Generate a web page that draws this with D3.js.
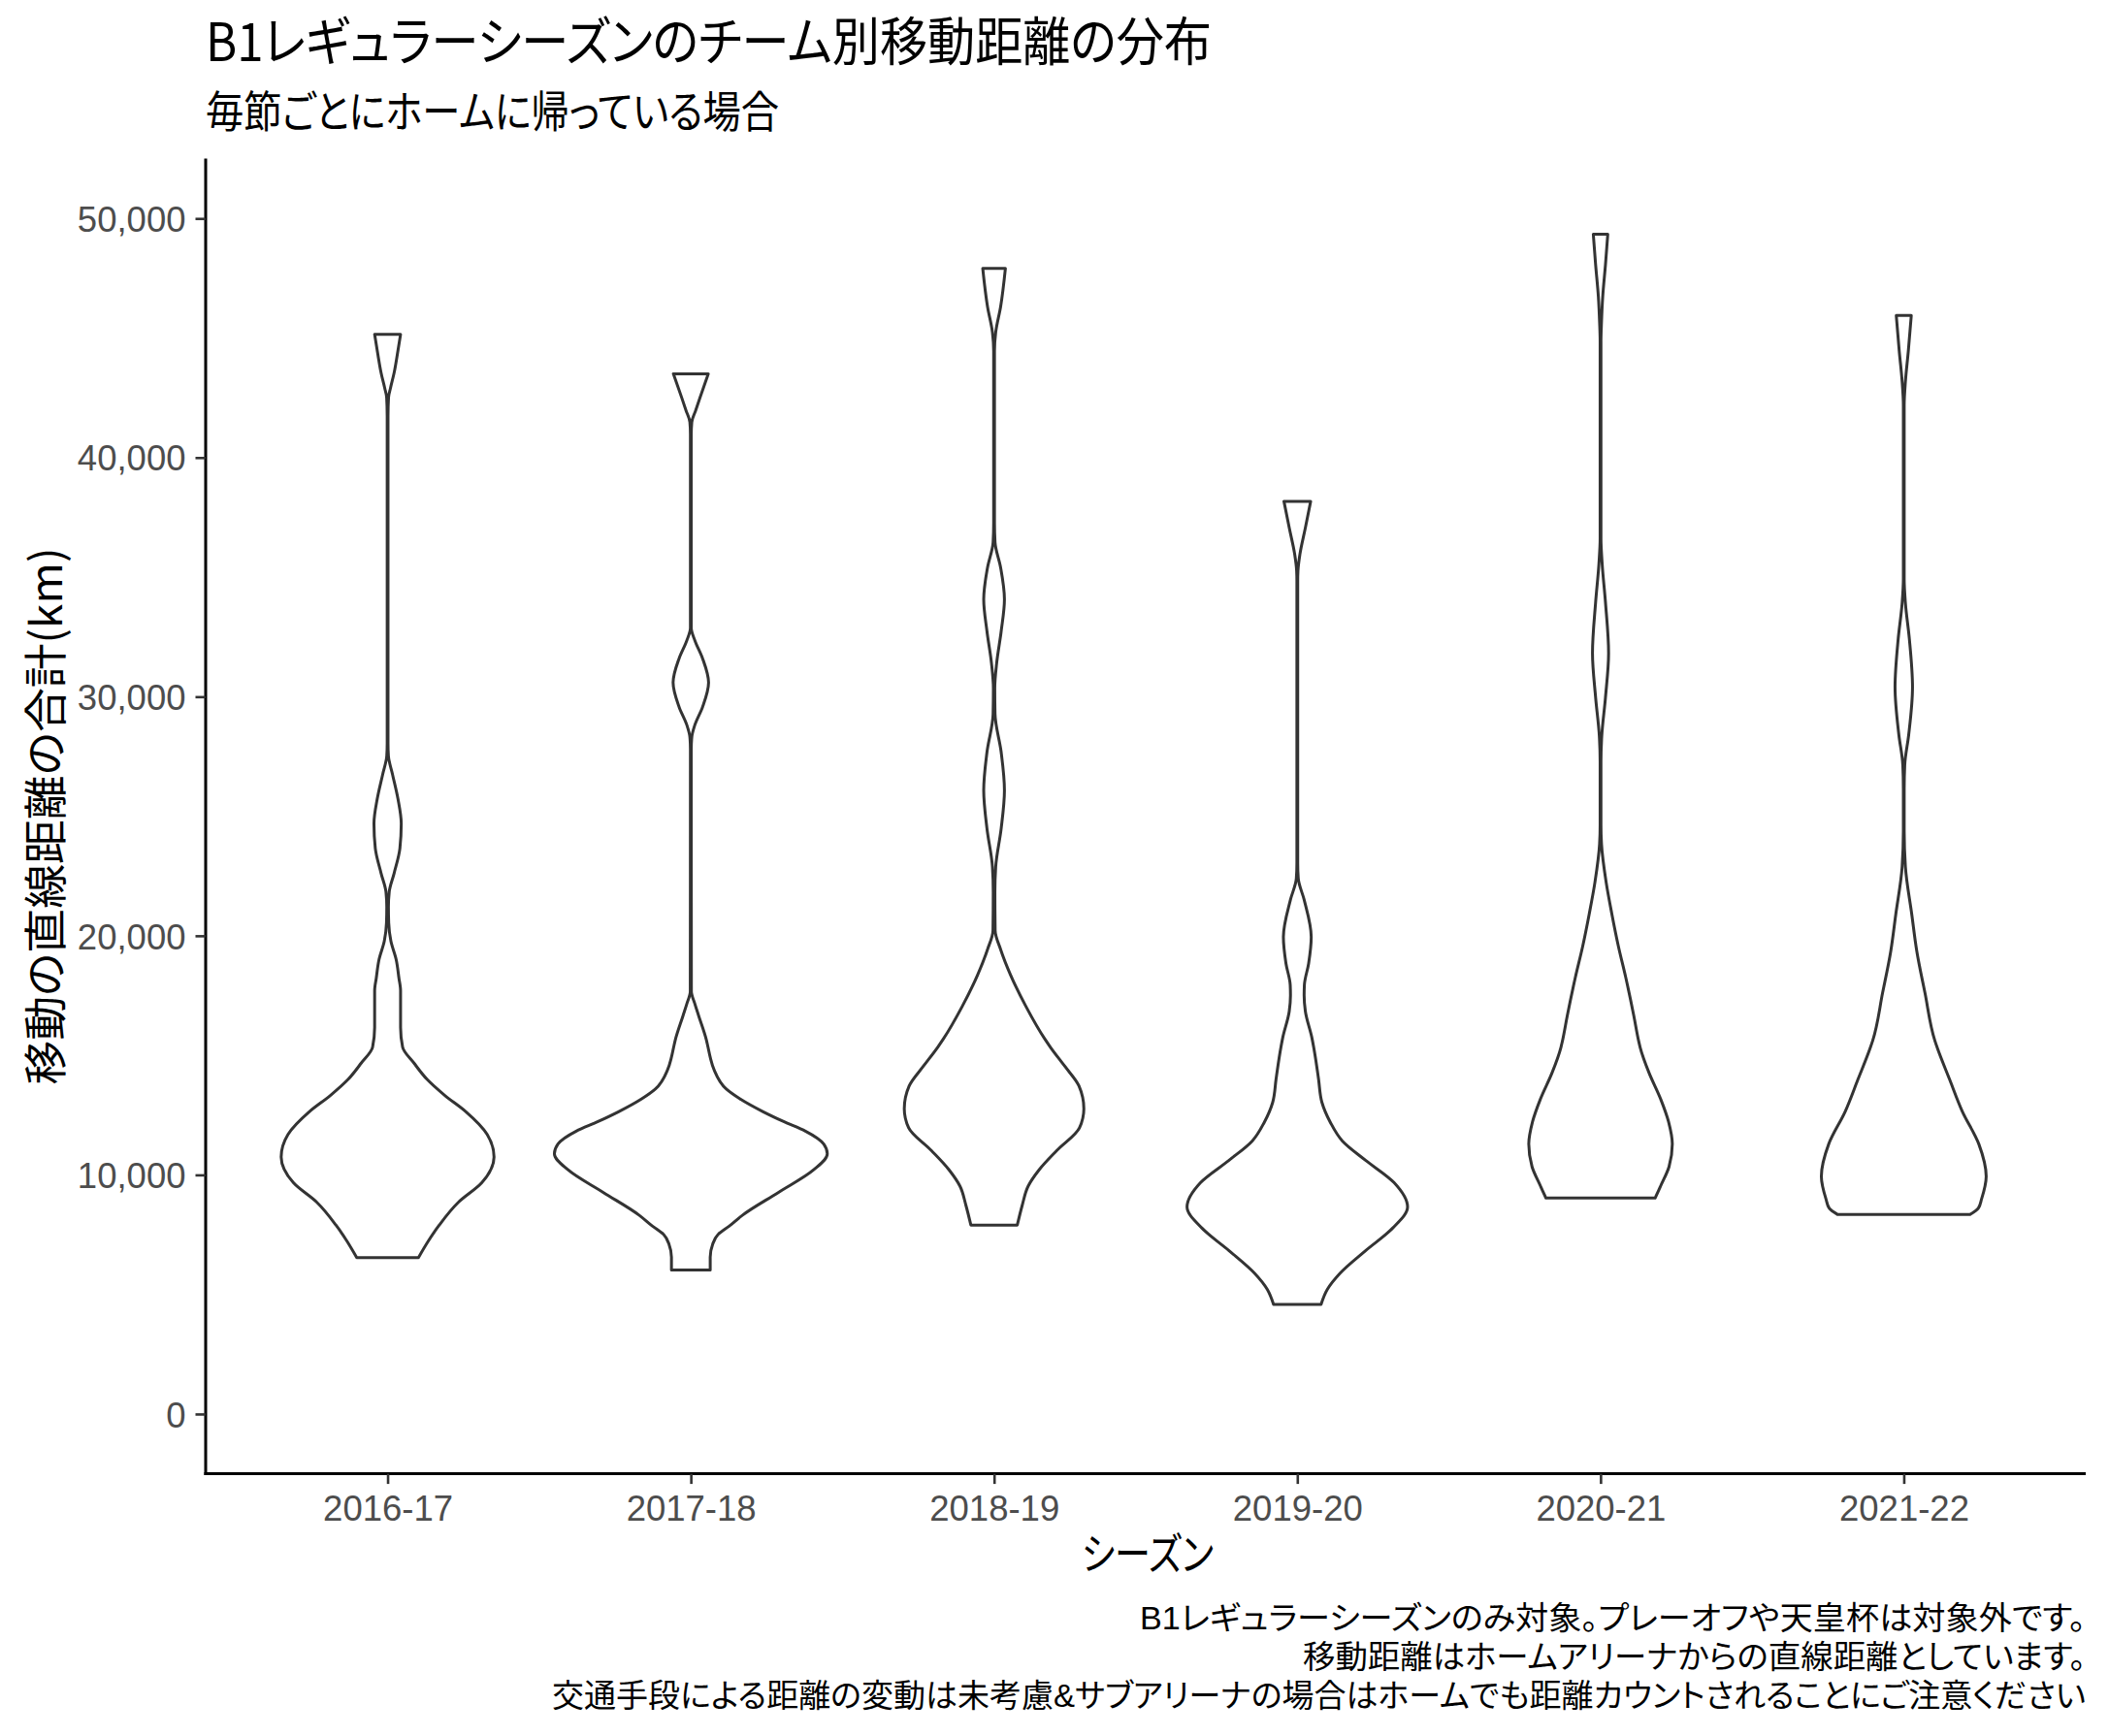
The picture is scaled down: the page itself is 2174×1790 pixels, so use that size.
<!DOCTYPE html>
<html>
<head>
<meta charset="utf-8">
<script src="https://cdn.jsdelivr.net/npm/d3@7"></script>
<style>
  body { margin: 0; background: #ffffff; }
  .jp { font-family: "Noto Sans CJK JP", sans-serif; font-feature-settings: "palt"; }
  .cap { font-family: "Liberation Sans", "Noto Sans CJK JP", sans-serif; font-feature-settings: "palt"; }
  .num { font-family: "Liberation Sans", Arial, sans-serif; }
</style>
</head>
<body>
<svg id="chart" width="2174" height="1790"></svg>
<script>
// ---------------- data ----------------
const seasons = ["2016-17", "2017-18", "2018-19", "2019-20", "2020-21", "2021-22"];
const yTicks = [0, 10000, 20000, 30000, 40000, 50000];
const yLimits = [0, 50000];

const titleText = "B1レギュラーシーズンのチーム別移動距離の分布";
const subtitleText = "毎節ごとにホームに帰っている場合";
const xTitleText = "シーズン";
const yTitleText = "移動の直線距離の合計(km)";
const captionLines = [
  "B1レギュラーシーズンのみ対象。プレーオフや天皇杯は対象外です。",
  "移動距離はホームアリーナからの直線距離としています。",
  "交通手段による距離の変動は未考慮&サブアリーナの場合はホームでも距離カウントされることにご注意ください"
];

// violin profiles: [distance km, scaled density (1 = widest violin)], top to bottom
const violin2016_17 = [
  [45150,0.095],[44300,0.071],[43550,0.048],[42900,0.021],[42520,0.007],[41740,0.003],
  [28050,0.003],[27530,0.006],[26750,0.036],[25720,0.076],[24690,0.100],[23650,0.090],
  [22620,0.048],[21840,0.012],[21200,0.006],[20550,0.008],[19780,0.024],[19000,0.063],
  [18230,0.083],[17710,0.095],[16160,0.095],[15340,0.110],[14670,0.194],[13990,0.290],
  [13320,0.420],[12640,0.574],[11690,0.730],[10750,0.780],[9670,0.690],[8860,0.520],
  [7910,0.380],[7240,0.299],[6540,0.226]
];
const violin2017_18 = [
  [43500,0.128],[42490,0.066],[41980,0.036],[41480,0.007],[40970,0.003],[32870,0.003],
  [32360,0.029],[31600,0.086],[30590,0.130],[29570,0.086],[28810,0.029],[28310,0.007],
  [27800,0.003],[17670,0.004],[17160,0.029],[16660,0.057],[15640,0.114],[15340,0.126],
  [14900,0.143],[14400,0.170],[13590,0.260],[13180,0.360],[12640,0.530],[12230,0.680],
  [11830,0.840],[11290,0.974],[10880,1.000],[10210,0.900],[9260,0.640],[8320,0.380],
  [7850,0.280],[7510,0.200],[7100,0.160],[6560,0.142],[6020,0.142]
];
const violin2018_19 = [
  [47910,0.083],[46310,0.048],[45240,0.012],[44450,0.003],[37260,0.003],[36460,0.007],
  [35400,0.048],[34070,0.076],[32730,0.052],[31400,0.019],[30340,0.005],[29280,0.007],
  [27680,0.052],[26080,0.076],[24480,0.052],[22890,0.012],[21820,0.006],[20220,0.008],
  [19430,0.048],[18360,0.121],[17030,0.235],[15700,0.370],[15340,0.413],[14530,0.520],
  [13720,0.622],[12770,0.658],[11970,0.626],[11020,0.460],[10210,0.330],[9530,0.250],
  [8720,0.206],[7900,0.170]
];
const violin2019_20 = [
  [38170,0.098],[37060,0.059],[35950,0.019],[35280,0.005],[34840,0.003],[23060,0.003],
  [22400,0.007],[21510,0.050],[19950,0.102],[18840,0.083],[17950,0.052],[17510,0.050],
  [16840,0.059],[15730,0.107],[15340,0.120],[14400,0.146],[13990,0.156],[13040,0.180],
  [12200,0.242],[11420,0.330],[10610,0.500],[9670,0.710],[8660,0.808],[7780,0.700],
  [6830,0.500],[5890,0.314],[5210,0.220],[4580,0.174]
];
const violin2020_21 = [
  [49340,0.053],[48060,0.036],[46730,0.016],[45660,0.007],[44860,0.003],[36610,0.003],
  [35550,0.012],[33950,0.036],[31820,0.059],[29960,0.036],[28360,0.009],[27300,0.003],
  [24640,0.003],[23840,0.007],[22240,0.041],[20910,0.083],[19580,0.130],[18250,0.185],
  [16650,0.244],[15580,0.280],[15340,0.290],[14260,0.356],[13180,0.440],[12230,0.498],
  [11290,0.526],[10340,0.502],[9530,0.440],[9400,0.430],[9030,0.400]
];
const violin2021_22 = [
  [45940,0.055],[44440,0.033],[43180,0.012],[42180,0.003],[34920,0.003],[33910,0.012],
  [32410,0.041],[30400,0.064],[28400,0.036],[27140,0.007],[26140,0.003],[24380,0.003],
  [22880,0.012],[20880,0.059],[19370,0.095],[17620,0.155],[15610,0.228],[15340,0.244],
  [13990,0.336],[12640,0.430],[11290,0.550],[9940,0.604],[8990,0.570],[8600,0.546],
  [8340,0.484]
];
const violins = [violin2016_17, violin2017_18, violin2018_19, violin2019_20, violin2020_21, violin2021_22];

// ---------------- layout ----------------
const W = 2174, H = 1790;
const panel = { left: 212, right: 2150, top: 163.6, bottom: 1519.6 };
const ink = "#333333", tickText = "#4D4D4D";

const svg = d3.select("#chart");
svg.append("rect").attr("width", W).attr("height", H).attr("fill", "#ffffff");

const x = d3.scalePoint().domain(seasons).range([panel.left, panel.right]).padding(0.6);
const span = yLimits[1] - yLimits[0];
const y = d3.scaleLinear()
  .domain([yLimits[0] - 0.05 * span, yLimits[1] + 0.05 * span])
  .range([panel.bottom, panel.top]);
const w = d3.scaleLinear().domain([0, 1]).range([0, 0.45 * x.step()]);

// ---------------- violins ----------------
const gV = svg.append("g");
seasons.forEach((s, i) => {
  const cx = x(s);
  const area = d3.area()
    .curve(d3.curveMonotoneY)
    .y(d => y(d[0]))
    .x0(d => cx - w(d[1]))
    .x1(d => cx + w(d[1]));
  gV.append("path")
    .datum(violins[i])
    .attr("d", area)
    .attr("fill", "#ffffff")
    .attr("stroke", ink)
    .attr("stroke-width", 3)
    .attr("stroke-linejoin", "round");
});

// ---------------- axes ----------------
const yAxis = d3.axisLeft(y).tickValues(yTicks).tickFormat(d3.format(","))
  .tickSize(10.5).tickSizeOuter(0).tickPadding(10);
const gy = svg.append("g").attr("transform", `translate(${panel.left},0)`).call(yAxis);
gy.select(".domain").attr("stroke", "#000").attr("stroke-width", 3);
gy.selectAll(".tick line").attr("stroke", ink).attr("stroke-width", 2.6);
gy.selectAll(".tick text").attr("class", "num").attr("font-size", 36.5)
  .attr("fill", tickText).attr("dy", "0.36em");

const xAxis = d3.axisBottom(x).tickSize(10.5).tickSizeOuter(0);
const gx = svg.append("g").attr("transform", `translate(0,${panel.bottom})`).call(xAxis);
gx.select(".domain").attr("stroke", "#000").attr("stroke-width", 3)
  .attr("d", `M${panel.left - 1.5},0H${panel.right}`);
gx.selectAll(".tick line").attr("stroke", ink).attr("stroke-width", 2.6);
gx.selectAll(".tick text").attr("class", "num").attr("font-size", 36.5)
  .attr("fill", tickText).attr("dy", null).attr("y", 48.4);
gy.select(".domain").attr("d", `M0,${panel.top}V${panel.bottom + 1.5}`);

// ---------------- texts ----------------
svg.append("text").attr("class", "jp").attr("x", 212).attr("y", 63)
  .attr("font-size", 54).attr("fill", "#000")
  .attr("textLength", 1037).attr("lengthAdjust", "spacingAndGlyphs")
  .text(titleText);

svg.append("text").attr("class", "jp").attr("x", 212).attr("y", 132)
  .attr("font-size", 45).attr("fill", "#000")
  .attr("textLength", 591).attr("lengthAdjust", "spacingAndGlyphs")
  .text(subtitleText);

svg.append("text").attr("class", "jp")
  .attr("transform", `translate(63.5,${(panel.top + panel.bottom) / 2}) rotate(-90)`)
  .attr("text-anchor", "middle").attr("font-size", 45).attr("fill", "#000")
  .attr("textLength", 554).attr("lengthAdjust", "spacingAndGlyphs")
  .text(yTitleText);

svg.append("text").attr("class", "jp")
  .attr("x", (panel.left + panel.right) / 2 + 2).attr("y", 1619)
  .attr("text-anchor", "middle").attr("font-size", 45).attr("fill", "#000")
  .attr("textLength", 136).attr("lengthAdjust", "spacingAndGlyphs")
  .text(xTitleText);

// caption: three right-aligned lines
const capLens = [975, 807, 1581];
const capY = [1680, 1720, 1760];
captionLines.forEach((t, i) => {
  svg.append("text").attr("class", "cap")
    .attr("x", panel.right).attr("y", capY[i])
    .attr("text-anchor", "end").attr("font-size", 33).attr("fill", "#000")
    .attr("textLength", capLens[i]).attr("lengthAdjust", "spacingAndGlyphs")
    .text(t);
});
</script>
</body>
</html>
